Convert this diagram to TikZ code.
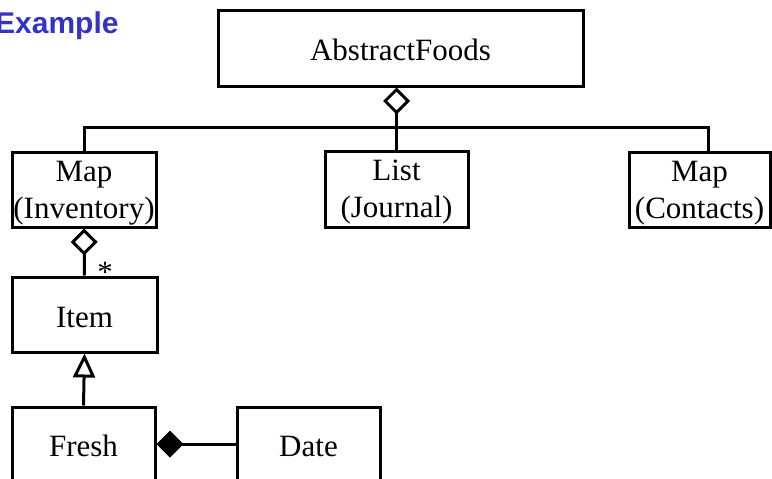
\documentclass[tikz,border=0pt]{standalone}
\usepackage{fontspec}
\setmainfont{Liberation Serif}
\newfontfamily\headfont{Liberation Sans}
\usetikzlibrary{arrows.meta}
\definecolor{exblue}{RGB}{51,51,204}
\tikzset{
  cls/.style={draw, line width=3pt, rectangle, inner sep=0pt, align=center,
    text height=25pt, text depth=0pt,
    font=\fontsize{31}{37}\selectfont},
  cls2/.style={draw, line width=3pt, rectangle, inner sep=0pt, align=center,
    text depth=0pt, font=\fontsize{31}{37}\selectfont},
  link/.style={line width=3pt},
  aggr/.style={link, {Diamond[open, length=27pt, width=27pt]}-},
  comp/.style={link, {Diamond[length=27pt, width=27pt]}-},
  gen/.style={link, -{Triangle[open, length=24pt, width=22pt]}},
}
\begin{document}
\begin{tikzpicture}[x=1pt, y=-1pt]
\useasboundingbox (0,0) rectangle (772,479);

\node[anchor=base west, inner sep=0pt, text=exblue,
  font=\headfont\bfseries\fontsize{30}{36}\selectfont] (title) at (-5,33) {Example};

% classes
\node[cls, minimum width=365pt, minimum height=76pt] (abs) at (400.5,48) {AbstractFoods};
\node[cls2, minimum width=144pt, minimum height=75pt] (inv) at (84,189.5) {Map\\(Inventory)};
\node[cls2, minimum width=143pt, minimum height=76pt] (list) at (396.5,189) {List\\(Journal)};
\node[cls2, minimum width=141pt, minimum height=75pt] (contacts) at (699.5,189.5) {Map\\(Contacts)};
\node[cls, minimum width=145pt, minimum height=75pt] (item) at (84.5,314.5) {Item};
\node[cls, minimum width=143pt, minimum height=74pt] (fresh) at (83.5,444) {Fresh};
\node[cls, minimum width=143pt, minimum height=74pt] (date) at (308.5,444) {Date};

% aggregation bus below AbstractFoods
\coordinate (busR) at (708,127);
\draw[aggr] (abs.south -| list.north) -- (list.north);
\draw[link] (inv.north) |- (busR) -- (busR |- contacts.north);

% Inventory holds many items
\draw[aggr] (inv.south) -- (item.north);
\node[anchor=base, font=\fontsize{31}{37}\selectfont, inner sep=0pt] (mult) at (105,282) {*};

% Fresh is an Item
\draw[gen] (fresh.north) -- (item.south);

% Fresh is composed with a Date
\draw[comp] (fresh.east) -- (date.west);
\end{tikzpicture}
\end{document}
